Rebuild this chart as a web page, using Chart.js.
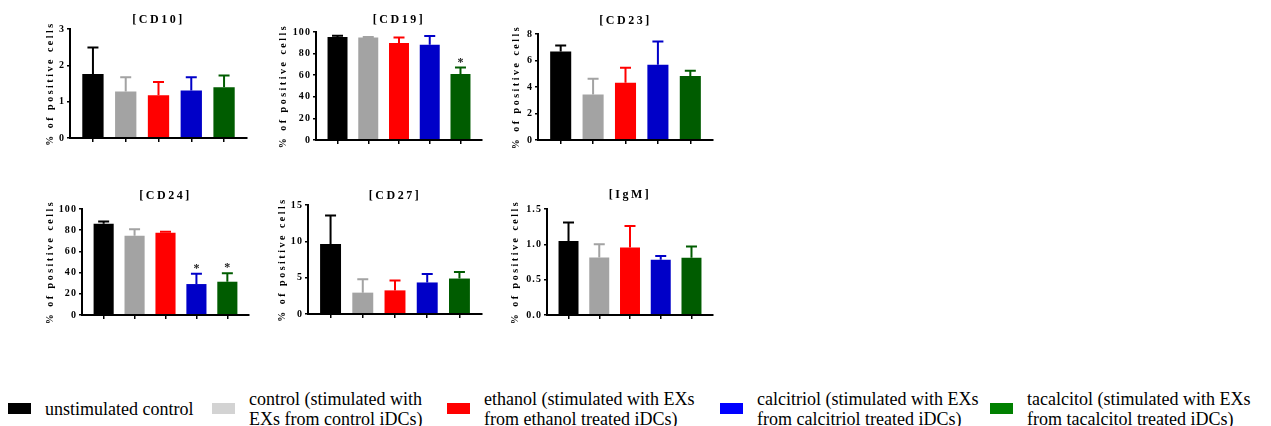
<!DOCTYPE html>
<html>
<head>
<meta charset="utf-8">
<script src="https://cdn.jsdelivr.net/npm/chart.js@4.4.1/dist/chart.umd.min.js"></script>
<style>
  body { margin: 0; background: #fff; width: 1271px; height: 426px; position: relative; overflow: hidden; }
  canvas { position: absolute; }
  .item { position: absolute; top: 388px; height: 41px; display: flex; align-items: center; font-family: "Liberation Serif", "Tinos", "Times New Roman", "DejaVu Serif", serif; font-size: 18px; line-height: 20px; color: #000; white-space: pre; }
  .box { width: 23px; height: 11px; margin-right: 14px; flex: none; }
</style>
</head>
<body>
<canvas id="c0"></canvas>
<canvas id="c1"></canvas>
<canvas id="c2"></canvas>
<canvas id="c3"></canvas>
<canvas id="c4"></canvas>
<canvas id="c5"></canvas>
<div id="legend"></div>
<script>
// groups (legend), same order as the bars
const groups = [
  'unstimulated control',
  'control (stimulated with\nEXs from control iDCs)',
  'ethanol (stimulated with EXs\nfrom ethanol treated iDCs)',
  'calcitriol (stimulated with EXs\nfrom calcitriol treated iDCs)',
  'tacalcitol (stimulated with EXs\nfrom tacalcitol treated iDCs)'
];
const markers = ['[CD10]', '[CD19]', '[CD23]', '[CD24]', '[CD27]', '[IgM]'];

// means and upper SD for each marker
const cd10Mean = [1.76, 1.28, 1.18, 1.31, 1.40];
const cd10Sd   = [0.73, 0.39, 0.36, 0.36, 0.32];
const cd19Mean = [95.4, 94.8, 89.9, 88.1, 61.0];
const cd19Sd   = [1.2, 0.6, 4.9, 8.2, 6.1];
const cd23Mean = [6.68, 3.44, 4.33, 5.67, 4.83];
const cd23Sd   = [0.45, 1.19, 1.12, 1.76, 0.39];
const cd24Mean = [86.2, 74.8, 77.5, 29.2, 31.4];
const cd24Sd   = [2.1, 6.1, 1.0, 9.6, 8.0];
const cd27Mean = [9.62, 2.94, 3.25, 4.34, 4.88];
const cd27Sd   = [3.94, 1.85, 1.36, 1.17, 0.90];
const igmMean  = [1.048, 0.815, 0.955, 0.782, 0.810];
const igmSd    = [0.261, 0.186, 0.303, 0.052, 0.159];

// significance marks
const cd19Sig = ['', '', '', '', '*'];
const cd24Sig = ['', '', '', '*', '*'];
const noSig   = ['', '', '', '', ''];

// y tick values
const cd10Ticks = [0, 1, 2, 3];
const cd19Ticks = [0, 20, 40, 60, 80, 100];
const cd23Ticks = [0, 2, 4, 6, 8];
const cd24Ticks = [0, 20, 40, 60, 80, 100];
const cd27Ticks = [0, 5, 10, 15];
const igmTicks  = [0, 0.5, 1.0, 1.5];

const panels = [
  { mean: cd10Mean, sd: cd10Sd, sig: noSig,   ticks: cd10Ticks, dec: 0 },
  { mean: cd19Mean, sd: cd19Sd, sig: cd19Sig, ticks: cd19Ticks, dec: 0 },
  { mean: cd23Mean, sd: cd23Sd, sig: noSig,   ticks: cd23Ticks, dec: 0 },
  { mean: cd24Mean, sd: cd24Sd, sig: cd24Sig, ticks: cd24Ticks, dec: 0 },
  { mean: cd27Mean, sd: cd27Sd, sig: noSig,   ticks: cd27Ticks, dec: 0 },
  { mean: igmMean,  sd: igmSd,  sig: noSig,   ticks: igmTicks,  dec: 1 }
];

// where each plot area sits on the page
const boxes = [
  { L: 70,  T: 29,  R: 247, B: 140, ty: 20,  yw: 26 },
  { L: 316, T: 32,  R: 482, B: 142, ty: 20,  yw: 39 },
  { L: 538, T: 34,  R: 713, B: 142, ty: 21,  yw: 28 },
  { L: 82,  T: 209, R: 249, B: 317, ty: 196, yw: 38 },
  { L: 308, T: 205, R: 482, B: 316, ty: 196, yw: 32 },
  { L: 547, T: 209, R: 713, B: 317, ty: 195, yw: 38 }
];

const barColors = ['#000000', '#a3a3a3', '#ff0000', '#0000c8', '#005c00'];
const legendColors = ['#000000', '#d3d3d3', '#ff0000', '#0000ff', '#008000'];
const legendLeft = [8, 212, 447, 720, 990];

const serif = '"Liberation Serif", Tinos, "Times New Roman", "DejaVu Serif", serif';

// error bars + stars
const errorBars = {
  id: 'errorBars',
  beforeDraw(chart) { chart.ctx.letterSpacing = '2.5px'; },
  beforeDatasetsDraw(chart) { chart.ctx.letterSpacing = '1.1px'; },
  afterDatasetsDraw(chart, args, opts) {
    const ctx = chart.ctx;
    const y = chart.scales.y;
    const meta = chart.getDatasetMeta(0);
    ctx.save();
    ctx.lineWidth = 2;
    meta.data.forEach((bar, i) => {
      const v = chart.data.datasets[0].data[i].y;
      const top = y.getPixelForValue(v + opts.sd[i]);
      ctx.strokeStyle = barColors[i];
      ctx.beginPath();
      ctx.moveTo(bar.x, bar.y);
      ctx.lineTo(bar.x, top);
      ctx.moveTo(bar.x - 5.5, top);
      ctx.lineTo(bar.x + 5.5, top);
      ctx.stroke();
      if (opts.sig[i]) {
        ctx.letterSpacing = '0px';
        ctx.fillStyle = '#222';
        ctx.font = 'bold 12px ' + serif;
        ctx.textAlign = 'center';
        ctx.textBaseline = 'alphabetic';
        ctx.fillText(opts.sig[i], bar.x, top - 2);
        ctx.letterSpacing = '1.1px';
      }
    });
    ctx.restore();
  }
};

panels.forEach((p, k) => {
  const b = boxes[k];
  const cv = document.getElementById('c' + k);
  const left = b.L - b.yw;
  const top = Math.round(b.ty - 9.2);
  cv.width = b.R - left + 4;
  cv.height = b.B - top + 6;
  cv.style.left = left + 'px';
  cv.style.top = top + 'px';

  new Chart(cv, {
    type: 'bar',
    data: {
      datasets: [{
        data: p.mean.map((v, i) => ({ x: i, y: v })),
        backgroundColor: barColors,
        borderWidth: 0,
        barPercentage: 0.65,
        categoryPercentage: 1
      }]
    },
    options: {
      responsive: false,
      animation: false,
      devicePixelRatio: 1,
      layout: { padding: { left: 0, right: 4, top: 0, bottom: 0 } },
      plugins: {
        legend: { display: false },
        tooltip: { enabled: false },
        title: {
          display: true,
          text: markers[k],
          fullSize: false,
          color: '#000',
          font: { family: serif, size: 12, weight: 'bold', lineHeight: 1.2 },
          padding: { top: 2, bottom: Math.max(0, b.T - top - 16.4) }
        },
        errorBars: { sd: p.sd, sig: p.sig }
      },
      scales: {
        x: {
          type: 'linear',
          offset: false,
          min: -0.7,
          max: 4.7,
          afterBuildTicks: s => { s.ticks = [0, 1, 2, 3, 4].map(v => ({ value: v })); },
          afterFit: s => { s.height = 6; },
          ticks: { display: false },
          grid: { offset: false, drawOnChartArea: false, drawTicks: true, tickLength: 4, color: '#000', lineWidth: 1.5 },
          border: { color: '#000', width: 2, z: 1 }
        },
        y: {
          min: 0,
          max: p.ticks[p.ticks.length - 1],
          afterBuildTicks: s => { s.ticks = p.ticks.map(v => ({ value: v })); },
          afterFit: s => { s.width = b.yw; },
          ticks: {
            z: 1,
            color: '#000',
            padding: 2,
            font: { family: serif, size: 10, weight: 'bold' },
            callback: v => v.toFixed(p.dec)
          },
          grid: { drawOnChartArea: false, drawTicks: true, tickLength: 3, color: '#000', lineWidth: 1.5 },
          border: { color: '#000', width: 2, z: 1 },
          title: {
            display: true,
            text: '% of positive cells',
            color: '#000',
            padding: { top: 0, bottom: 2 },
            font: { family: serif, size: 10, weight: 'bold', lineHeight: 1.2 }
          }
        }
      }
    },
    plugins: [errorBars]
  });
});

// legend
const legend = document.getElementById('legend');
groups.forEach((g, i) => {
  const item = document.createElement('div');
  item.className = 'item';
  item.style.left = legendLeft[i] + 'px';
  const box = document.createElement('div');
  box.className = 'box';
  box.style.background = legendColors[i];
  const txt = document.createElement('div');
  txt.textContent = g;
  item.appendChild(box);
  item.appendChild(txt);
  legend.appendChild(item);
});
</script>
</body>
</html>
